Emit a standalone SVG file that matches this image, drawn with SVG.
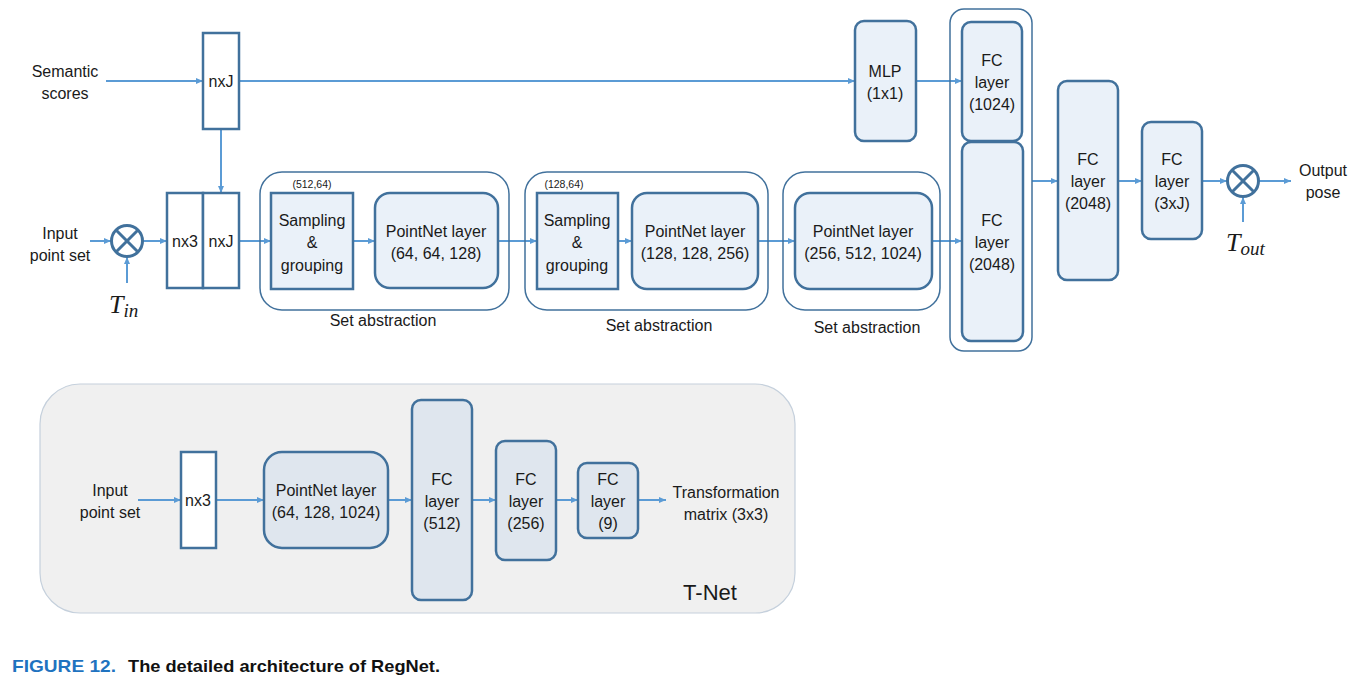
<svg xmlns="http://www.w3.org/2000/svg" width="1362" height="685" viewBox="0 0 1362 685">
<style>
text{font-family:"Liberation Sans",Arial,sans-serif;font-size:16px;fill:#1a1a1a;text-anchor:middle}
.sm{font-size:10.5px}
.box{fill:#eaf1f9;stroke:#41719c;stroke-width:2.5}
.wbox{fill:#ffffff;stroke:#41719c;stroke-width:2.5}
.grp{fill:none;stroke:#41719c;stroke-width:1.5}
.tbox{fill:#dfe6ee;stroke:#41719c;stroke-width:2.5}
.c{fill:none;stroke:#5b9bd5;stroke-width:2}
.mul{fill:#ffffff;stroke:#41719c;stroke-width:3}
.math{font-family:"Liberation Serif","Times New Roman",serif;font-style:italic;font-size:26px;text-anchor:start}
</style>
<defs>
<marker id="ah" markerWidth="8" markerHeight="8" refX="7" refY="4" orient="auto" markerUnits="userSpaceOnUse">
<path d="M0,1 L7,4 L0,7 Z" fill="#5b9bd5"/>
</marker>
</defs>
<rect width="1362" height="685" fill="#ffffff"/>

<g id="tnet-panel">
<rect x="40" y="384" width="755" height="229" rx="40" fill="#f0f0f0" stroke="#c5d0dc" stroke-width="1.2"/>
<text x="710" y="600" style="font-size:22px">T-Net</text>
</g>

<g id="connectors">
<line class="c" x1="106" y1="81" x2="203" y2="81" marker-end="url(#ah)"/>
<line class="c" x1="239" y1="81" x2="855" y2="81" marker-end="url(#ah)"/>
<line class="c" x1="221" y1="129" x2="221" y2="193" marker-end="url(#ah)"/>
<line class="c" x1="90" y1="241" x2="111" y2="241" marker-end="url(#ah)"/>
<line class="c" x1="127" y1="283" x2="127" y2="257" marker-end="url(#ah)"/>
<line class="c" x1="143" y1="241" x2="167" y2="241" marker-end="url(#ah)"/>
<line class="c" x1="239" y1="241" x2="271" y2="241" marker-end="url(#ah)"/>
<line class="c" x1="353" y1="241" x2="375" y2="241" marker-end="url(#ah)"/>
<line class="c" x1="498" y1="241" x2="537" y2="241" marker-end="url(#ah)"/>
<line class="c" x1="618" y1="241" x2="632" y2="241" marker-end="url(#ah)"/>
<line class="c" x1="758" y1="241" x2="795" y2="241" marker-end="url(#ah)"/>
<line class="c" x1="932" y1="241" x2="962" y2="241" marker-end="url(#ah)"/>
<line class="c" x1="916" y1="81" x2="962" y2="81" marker-end="url(#ah)"/>
<line class="c" x1="1032" y1="181" x2="1058" y2="181" marker-end="url(#ah)"/>
<line class="c" x1="1118" y1="181" x2="1142" y2="181" marker-end="url(#ah)"/>
<line class="c" x1="1202" y1="181" x2="1227" y2="181" marker-end="url(#ah)"/>
<line class="c" x1="1259" y1="181" x2="1291" y2="181" marker-end="url(#ah)"/>
<line class="c" x1="1243" y1="222" x2="1243" y2="197" marker-end="url(#ah)"/>
<line class="c" x1="138" y1="500" x2="181" y2="500" marker-end="url(#ah)"/>
<line class="c" x1="216" y1="500" x2="264" y2="500" marker-end="url(#ah)"/>
<line class="c" x1="388" y1="500" x2="412" y2="500" marker-end="url(#ah)"/>
<line class="c" x1="472" y1="500" x2="496" y2="500" marker-end="url(#ah)"/>
<line class="c" x1="556" y1="500" x2="578" y2="500" marker-end="url(#ah)"/>
<line class="c" x1="638" y1="500" x2="666" y2="500" marker-end="url(#ah)"/>
</g>

<g id="semantic-label">
<text x="65" y="77">Semantic</text>
<text x="65" y="99">scores</text>
</g>
<g id="nxJ-top">
<rect class="wbox" x="203" y="33" width="36" height="96"/>
<text x="221" y="87">nxJ</text>
</g>
<g id="input-label">
<text x="60" y="239">Input</text>
<text x="60" y="261">point set</text>
</g>
<g id="mul-in">
<circle class="mul" cx="127" cy="241" r="15.5"/>
<line class="mul" x1="116" y1="230" x2="138" y2="252"/>
<line class="mul" x1="138" y1="230" x2="116" y2="252"/>
<text class="math" x="109" y="313">T<tspan style="font-size:19px" dy="4">in</tspan></text>
</g>
<g id="nx3-nxJ">
<rect class="wbox" x="167" y="193" width="36" height="95"/>
<rect class="wbox" x="203" y="193" width="36" height="95"/>
<text x="185" y="247">nx3</text>
<text x="221" y="247">nxJ</text>
</g>

<g id="sa1">
<rect class="grp" x="260" y="172" width="249" height="138" rx="22"/>
<text class="sm" x="312" y="188">(512,64)</text>
<rect class="box" x="271" y="193" width="82" height="96"/>
<text x="312" y="226">Sampling</text>
<text x="312" y="248">&amp;</text>
<text x="312" y="271">grouping</text>
<rect class="box" x="375" y="193" width="123" height="95" rx="15"/>
<text x="436" y="237">PointNet layer</text>
<text x="436" y="259">(64, 64, 128)</text>
<text x="383" y="326">Set abstraction</text>
</g>

<g id="sa2">
<rect class="grp" x="525" y="172" width="243" height="138" rx="22"/>
<text class="sm" x="564" y="188">(128,64)</text>
<rect class="box" x="537" y="193" width="81" height="96"/>
<text x="577" y="226">Sampling</text>
<text x="577" y="248">&amp;</text>
<text x="577" y="271">grouping</text>
<rect class="box" x="632" y="193" width="126" height="96" rx="15"/>
<text x="695" y="237">PointNet layer</text>
<text x="695" y="259">(128, 128, 256)</text>
<text x="659" y="331">Set abstraction</text>
</g>

<g id="sa3">
<rect class="grp" x="783" y="172" width="157" height="138" rx="22"/>
<rect class="box" x="795" y="193" width="137" height="96" rx="15"/>
<text x="863" y="237">PointNet layer</text>
<text x="863" y="259">(256, 512, 1024)</text>
<text x="867" y="333">Set abstraction</text>
</g>

<g id="mlp">
<rect class="box" x="855" y="21" width="61" height="120" rx="9"/>
<text x="885" y="77">MLP</text>
<text x="885" y="99">(1x1)</text>
</g>

<g id="fc-concat">
<rect class="grp" x="950" y="9" width="82" height="342" rx="14"/>
<rect class="box" x="962" y="22" width="60" height="119" rx="9"/>
<text x="992" y="66">FC</text>
<text x="992" y="88">layer</text>
<text x="992" y="110">(1024)</text>
<rect class="box" x="962" y="142" width="61" height="199" rx="9"/>
<text x="992" y="226">FC</text>
<text x="992" y="248">layer</text>
<text x="992" y="270">(2048)</text>
</g>

<g id="fc-2048">
<rect class="box" x="1058" y="81" width="60" height="199" rx="9"/>
<text x="1088" y="165">FC</text>
<text x="1088" y="187">layer</text>
<text x="1088" y="209">(2048)</text>
</g>

<g id="fc-3xJ">
<rect class="box" x="1142" y="122" width="60" height="117" rx="9"/>
<text x="1172" y="165">FC</text>
<text x="1172" y="187">layer</text>
<text x="1172" y="209">(3xJ)</text>
</g>

<g id="mul-out">
<circle class="mul" cx="1243" cy="181" r="15.5"/>
<line class="mul" x1="1232" y1="170" x2="1254" y2="192"/>
<line class="mul" x1="1254" y1="170" x2="1232" y2="192"/>
<text class="math" x="1226" y="251">T<tspan style="font-size:19px" dy="4">out</tspan></text>
</g>

<g id="output-label">
<text x="1323" y="176">Output</text>
<text x="1323" y="198">pose</text>
</g>

<g id="tnet-input">
<text x="110" y="496">Input</text>
<text x="110" y="518">point set</text>
</g>
<g id="tnet-nx3">
<rect class="wbox" x="181" y="452" width="35" height="96"/>
<text x="198" y="506">nx3</text>
</g>
<g id="tnet-pointnet">
<rect class="tbox" x="264" y="452" width="124" height="96" rx="18"/>
<text x="326" y="496">PointNet layer</text>
<text x="326" y="518">(64, 128, 1024)</text>
</g>
<g id="tnet-fc512">
<rect class="tbox" x="412" y="400" width="60" height="200" rx="9"/>
<text x="442" y="485">FC</text>
<text x="442" y="507">layer</text>
<text x="442" y="529">(512)</text>
</g>
<g id="tnet-fc256">
<rect class="tbox" x="496" y="441" width="60" height="119" rx="9"/>
<text x="526" y="485">FC</text>
<text x="526" y="507">layer</text>
<text x="526" y="529">(256)</text>
</g>
<g id="tnet-fc9">
<rect class="tbox" x="578" y="463" width="60" height="75" rx="9"/>
<text x="608" y="485">FC</text>
<text x="608" y="507">layer</text>
<text x="608" y="529">(9)</text>
</g>
<g id="tnet-output">
<text x="726" y="498">Transformation</text>
<text x="726" y="520">matrix (3x3)</text>
</g>

<g id="caption">
<text x="12" y="672" style="text-anchor:start;font-weight:bold;font-size:17px;fill:#1f73c0" textLength="104" lengthAdjust="spacingAndGlyphs">FIGURE 12.</text>
<text x="128" y="672" style="text-anchor:start;font-weight:bold;font-size:17px;fill:#111" textLength="312" lengthAdjust="spacingAndGlyphs">The detailed architecture of RegNet.</text>
</g>
</svg>
